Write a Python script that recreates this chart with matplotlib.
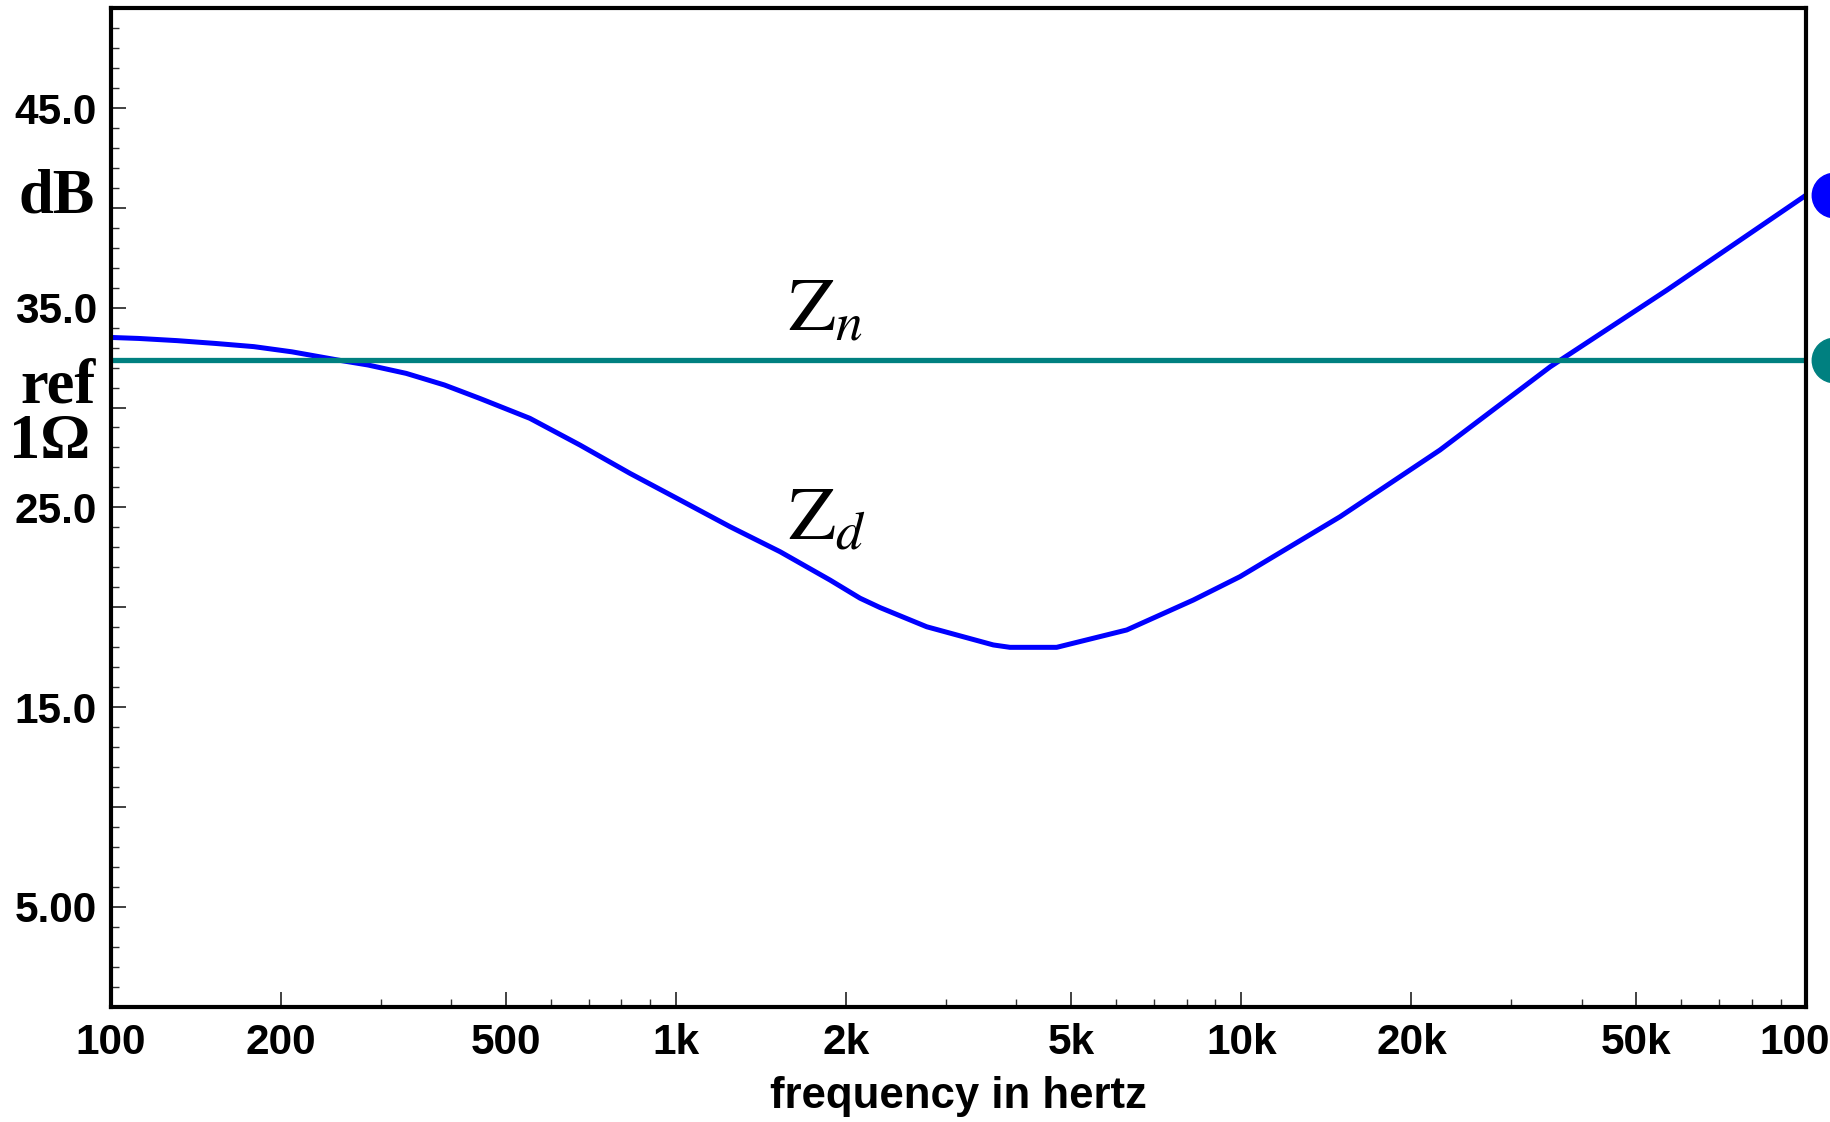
import matplotlib
matplotlib.use("Agg")
import matplotlib.pyplot as plt
from matplotlib.ticker import FixedLocator, FixedFormatter, NullFormatter
from matplotlib.transforms import blended_transform_factory

# Driver impedance Zd (dB re 1 ohm)
freq_hz = [100, 112, 131, 153, 179, 209, 252, 285, 333, 389, 450, 551, 676,
           829, 1016, 1246, 1527, 1872, 2116, 2296, 2776, 3641, 3897, 4713,
           6270, 8226, 9947, 14950, 22460, 35200, 56620, 100000]
zd_db = [33.51, 33.46, 33.35, 33.21, 33.05, 32.79, 32.38, 32.13, 31.71, 31.13,
         30.45, 29.46, 28.12, 26.70, 25.37, 24.03, 22.78, 21.36, 20.45, 19.98,
         19.02, 18.11, 17.99, 17.99, 18.86, 20.36, 21.53, 24.53, 27.87, 32.04,
         35.88, 40.65]
zn_db = 32.4  # nominal impedance (ref 1 ohm line)

x_ticks = [100, 200, 500, 1000, 2000, 5000, 10000, 20000, 50000, 100000]
x_labels = ["100", "200", "500", "1k", "2k", "5k", "10k", "20k", "50k", "100k"]
y_major = [0, 5, 10, 15, 20, 25, 30, 35, 40, 45, 50]
y_labels = ["", "5.00", "", "15.0", "", "25.0", "", "35.0", "", "45.0", ""]

BLUE = "#0000FF"
TEAL = "#008080"

plt.rcParams["mathtext.fontset"] = "stix"

fig = plt.figure(figsize=(18.31, 11.22), dpi=100)
ax = fig.add_axes([0.0606, 0.1029, 0.9260, 0.8898])

ax.semilogx(freq_hz, zd_db, color=BLUE, lw=3.6)
ax.axhline(zn_db, color=TEAL, lw=3.8)

ax.set_xlim(100, 100000)
ax.set_ylim(0, 50)

# ticks
ax.xaxis.set_major_locator(FixedLocator(x_ticks))
ax.xaxis.set_major_formatter(FixedFormatter(x_labels))
minor_x = [m * d for d in (100, 1000, 10000) for m in (3, 4, 6, 7, 8, 9)]
ax.xaxis.set_minor_locator(FixedLocator(minor_x))
ax.xaxis.set_minor_formatter(NullFormatter())
ax.yaxis.set_major_locator(FixedLocator(y_major))
ax.yaxis.set_major_formatter(FixedFormatter(y_labels))
ax.yaxis.set_minor_locator(FixedLocator(range(0, 51)))

ax.tick_params(which="both", direction="in", top=False, right=False)
ax.tick_params(which="major", length=11, width=1.3, color="#333333")
ax.tick_params(which="minor", length=6, width=1.0, color="#333333")
ax.tick_params(axis="x", which="major", pad=12)
ax.tick_params(axis="y", which="major", pad=10)
for lab in ax.get_xticklabels() + ax.get_yticklabels():
    lab.set_fontfamily("Liberation Sans")
    lab.set_fontweight("bold")
    lab.set_fontsize(30.5)

for sp in ax.spines.values():
    sp.set_linewidth(3.0)

ax.set_xlabel("frequency in hertz", family="Liberation Sans", weight="bold",
              fontsize=31.5, labelpad=9)

# left-side unit labels
serif = dict(family="Liberation Serif", weight="bold", fontsize=45,
             ha="center", va="baseline")
fig.text(0.0309, 0.8106, "dB", **serif)
fig.text(0.0316, 0.6409, "ref", **serif)
fig.text(0.0271, 0.5921, "1Ω", **serif)

# curve names
ax.text(1578, 33.86, r"$\mathrm{Z}_{n}$", fontsize=55, ha="left", va="baseline")
ax.text(1578, 23.39, r"$\mathrm{Z}_{d}$", fontsize=55, ha="left", va="baseline")

# end markers past the right spine
tr = blended_transform_factory(ax.transAxes, ax.transData)
ax.plot([1.016], [zd_db[-1]], "o", color=BLUE, ms=32, transform=tr, clip_on=False)
ax.plot([1.016], [zn_db], "o", color=TEAL, ms=32, transform=tr, clip_on=False)

fig.savefig("out.png", dpi=100)
